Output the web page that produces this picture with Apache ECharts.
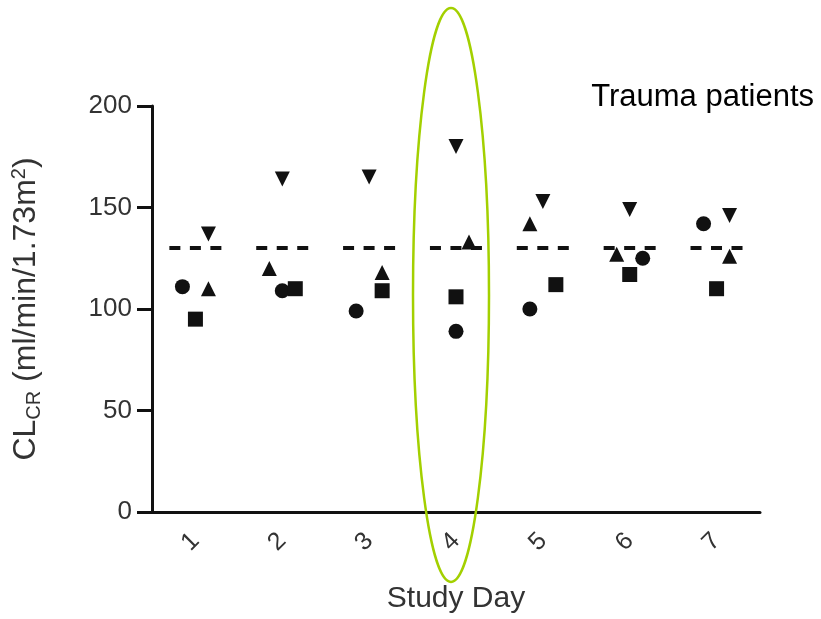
<!DOCTYPE html>
<html>
<head>
<meta charset="utf-8">
<title>Trauma patients</title>
<script src="https://cdn.jsdelivr.net/npm/echarts@6.0.0/dist/echarts.min.js"></script>
<style>
  html, body { margin: 0; padding: 0; background: #fff; }
  #main { width: 821px; height: 619px; }
</style>
</head>
<body>
<div id="main"></div>
<script>
// Données
const days = ['1', '2', '3', '4', '5', '6', '7'];
const circleVals = [111, 109, 99, 89, 100, 125, 142];
const squareVals = [95, 110, 109, 106, 112, 117, 110];
const triUpVals = [110, 120, 118, 133, 142, 127, 126];
const triDownVals = [137, 164, 165, 180, 153, 149, 146];
const refLine = [130, 130, 130, 130, 130, 130, 130];
const yTicks = [0, 50, 100, 150, 200];

// décalage horizontal des symboles (-1 gauche, 0 centre, 1 droite)
const circleSide = [-1, 0, -1, 0, -1, 1, -1];
const squareSide = [0, 1, 1, 0, 1, 0, 0];
const triUpSide = [1, -1, 1, 1, -1, -1, 1];
const triDownSide = [1, 0, 0, 0, 0, 0, 1];

const STEP = 13;
const INK = '#111';

function points(vals, side) {
  return vals.map((v, i) => ({ value: [i, v], symbolOffset: [side[i] * STEP, 0] }));
}

function markSeries(name, vals, side, symbol, rotate) {
  return {
    name: name,
    type: 'scatter',
    symbol: symbol,
    symbolSize: 15,
    symbolRotate: rotate || 0,
    itemStyle: { color: INK, opacity: 1 },
    data: points(vals, side),
    z: 3
  };
}

const chart = echarts.init(document.getElementById('main'), null, { renderer: 'canvas' });

const option = {
  backgroundColor: '#fff',
  animation: false,
  title: {
    text: 'Trauma patients',
    right: 2,
    top: 77,
    textStyle: { fontFamily: 'Liberation Sans', fontSize: 31, fontWeight: 'normal', color: '#000' }
  },
  grid: { left: 152, right: 61, top: 106, bottom: 104 },
  xAxis: {
    type: 'category',
    data: days,
    name: 'Study Day',
    nameLocation: 'middle',
    nameGap: 72,
    nameTextStyle: { fontFamily: 'Liberation Sans', fontSize: 30, color: '#333' },
    axisLine: { lineStyle: { color: INK, width: 3 } },
    axisTick: { alignWithLabel: true, length: 15, lineStyle: { color: INK, width: 3 } },
    axisLabel: { rotate: 45, margin: 25, fontFamily: 'Liberation Sans', fontSize: 25, color: '#333' },
    splitLine: { show: false }
  },
  yAxis: {
    type: 'value',
    min: yTicks[0],
    max: yTicks[yTicks.length - 1],
    interval: yTicks[1] - yTicks[0],
    name: 'CL{sub|CR} (ml/min/1.73m{sup|2})',
    nameLocation: 'middle',
    nameRotate: 90,
    nameGap: 108,
    nameTextStyle: {
      fontFamily: 'Liberation Sans',
      fontSize: 32,
      color: '#333',
      rich: {
        sub: { fontFamily: 'Liberation Sans', fontSize: 20, color: '#333', verticalAlign: 'bottom', padding: [15, 0, 0, 0] },
        sup: { fontFamily: 'Liberation Sans', fontSize: 20, color: '#333', verticalAlign: 'top', padding: [0, 0, 13, 0] }
      }
    },
    axisLine: { show: true, lineStyle: { color: INK, width: 3 } },
    axisTick: { show: true, length: 15, lineStyle: { color: INK, width: 3 } },
    axisLabel: { margin: 20, fontFamily: 'Liberation Sans', fontSize: 26, color: '#333' },
    splitLine: { show: false }
  },
  series: [
    {
      name: 'reference',
      type: 'custom',
      data: refLine.map((v, i) => [i, v]),
      renderItem: function (params, api) {
        const c = api.coord([api.value(0), api.value(1)]);
        const half = api.size([1, 0])[0] * 0.3;
        return {
          type: 'line',
          shape: { x1: c[0] - half, y1: c[1], x2: c[0] + half, y2: c[1] },
          style: { stroke: INK, lineWidth: 4, lineDash: [11, 9.5] }
        };
      },
      z: 2
    },
    markSeries('circle', circleVals, circleSide, 'circle'),
    markSeries('square', squareVals, squareSide, 'rect'),
    markSeries('up', triUpVals, triUpSide, 'triangle'),
    markSeries('down', triDownVals, triDownSide, 'triangle', 180)
  ]
};

chart.setOption(option);

// ellipse verte autour du jour 4
const p = chart.convertToPixel({ xAxisIndex: 0, yAxisIndex: 0 }, [3, 100]);
chart.setOption({
  graphic: [{
    type: 'ellipse',
    shape: { cx: p[0] - 5, cy: 295, rx: 38, ry: 287 },
    style: { fill: 'none', stroke: '#a3d000', lineWidth: 2.5 },
    z: 10
  }]
});

window.addEventListener('resize', () => {
  chart.resize();
});
</script>
</body>
</html>
